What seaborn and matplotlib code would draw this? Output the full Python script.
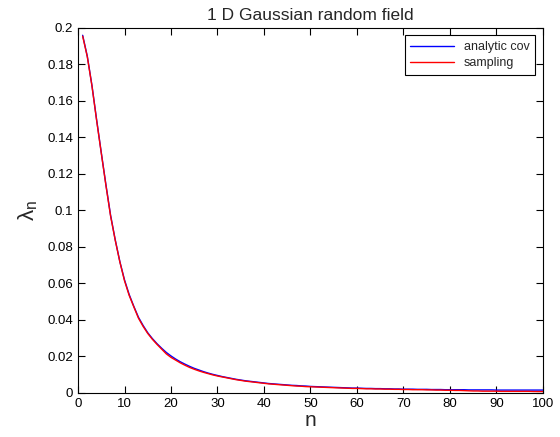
import numpy as np
import pandas as pd
import matplotlib
matplotlib.use("Agg")
import matplotlib.pyplot as plt
import seaborn as sns

n = list(range(1, 101))
analytic_cov = [
    0.1960, 0.1845, 0.1685, 0.1498, 0.1318, 0.1142, 0.0975, 0.0840, 0.0720, 0.0620,
    0.0540, 0.0475, 0.0415, 0.0370, 0.0330, 0.0298, 0.0270, 0.0245, 0.0222, 0.0203,
    0.0186, 0.0171, 0.0158, 0.0146, 0.0135, 0.0126, 0.0117, 0.0109, 0.0102, 0.0096,
    0.0090, 0.0085, 0.0080, 0.0075, 0.0071, 0.0067, 0.0064, 0.0061, 0.0058, 0.0055,
    0.0052, 0.0050, 0.0048, 0.0046, 0.0044, 0.0042, 0.0041, 0.0039, 0.0038, 0.0036,
    0.0035, 0.0034, 0.0033, 0.0032, 0.0031, 0.0030, 0.0029, 0.0028, 0.0027, 0.0027,
    0.0026, 0.0025, 0.0025, 0.0024, 0.0024, 0.0023, 0.0023, 0.0022, 0.0022, 0.0021,
    0.0021, 0.0021, 0.0020, 0.0020, 0.0020, 0.0019, 0.0019, 0.0019, 0.0018, 0.0018,
    0.0018, 0.0018, 0.0018, 0.0017, 0.0017, 0.0017, 0.0017, 0.0017, 0.0017, 0.0016,
    0.0016, 0.0016, 0.0016, 0.0016, 0.0016, 0.0016, 0.0016, 0.0016, 0.0016, 0.0016,
]
sampling = [
    0.1955, 0.1842, 0.1682, 0.1494, 0.1315, 0.1138, 0.0970, 0.0838, 0.0718, 0.0615,
    0.0535, 0.0472, 0.0410, 0.0365, 0.0326, 0.0294, 0.0266, 0.0240, 0.0214, 0.0195,
    0.0180, 0.0165, 0.0152, 0.0140, 0.0130, 0.0121, 0.0113, 0.0106, 0.0099, 0.0093,
    0.0088, 0.0083, 0.0078, 0.0073, 0.0069, 0.0065, 0.0062, 0.0059, 0.0056, 0.0053,
    0.0050, 0.0048, 0.0046, 0.0044, 0.0042, 0.0040, 0.0038, 0.0037, 0.0035, 0.0034,
    0.0033, 0.0032, 0.0031, 0.0030, 0.0029, 0.0028, 0.0027, 0.0026, 0.0025, 0.0025,
    0.0024, 0.0023, 0.0023, 0.0022, 0.0022, 0.0021, 0.0021, 0.0020, 0.0020, 0.0019,
    0.0019, 0.0018, 0.0018, 0.0018, 0.0017, 0.0017, 0.0016, 0.0016, 0.0015, 0.0015,
    0.0014, 0.0014, 0.0013, 0.0012, 0.0011, 0.0011, 0.0010, 0.0010, 0.0010, 0.0010,
    0.0009, 0.0009, 0.0009, 0.0009, 0.0009, 0.0009, 0.0009, 0.0008, 0.0008, 0.0008,
]
series_names = ["analytic cov", "sampling"]
x_ticks = [0, 10, 20, 30, 40, 50, 60, 70, 80, 90, 100]
y_ticks = [0, 0.02, 0.04, 0.06, 0.08, 0.1, 0.12, 0.14, 0.16, 0.18, 0.2]
y_tick_labels = ["0", "0.02", "0.04", "0.06", "0.08", "0.1", "0.12", "0.14", "0.16", "0.18", "0.2"]

df = pd.DataFrame({
    "n": n + n,
    "value": analytic_cov + sampling,
    "series": [series_names[0]] * len(n) + [series_names[1]] * len(n),
})

sns.set_style("ticks")
plt.rcParams["font.family"] = ["Liberation Sans", "DejaVu Sans"]

fig = plt.figure(figsize=(5.6, 4.37), dpi=100)
ax = fig.add_axes([0.1393, 0.1007, 0.8303, 0.8353])

sns.lineplot(data=df, x="n", y="value", hue="series",
             palette={"analytic cov": "#0000ff", "sampling": "#ff0000"},
             linewidth=1.0, ax=ax, legend=True)

ax.set_xlim(0, 100)
ax.set_ylim(0, 0.2)
ax.set_xticks(x_ticks)
ax.set_xticklabels([str(t) for t in x_ticks])
ax.set_yticks(y_ticks)
ax.set_yticklabels(y_tick_labels)
ax.tick_params(direction="in", top=True, right=True, labelsize=9.5, length=5, width=0.8, colors="black")
for s in ax.spines.values():
    s.set_visible(True)
    s.set_color("black")
    s.set_linewidth(0.8)

ax.set_title("1 D Gaussian random field", fontsize=12.5, pad=6)
ax.set_xlabel("n", fontsize=15, labelpad=1)
ax.set_ylabel(r"$\mathregular{\lambda_n}$", fontsize=16, labelpad=5)

leg = ax.legend(loc="upper right", fontsize=9, frameon=True, fancybox=False,
                edgecolor="black", framealpha=1, borderaxespad=0.6, handlelength=3.5,
                borderpad=0.45, labelspacing=0.35)
leg.get_frame().set_linewidth(0.8)

fig.savefig("out.png", dpi=100)
